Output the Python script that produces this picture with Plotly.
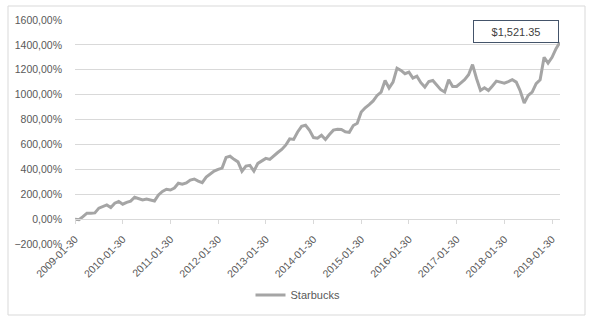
import calendar
import plotly.graph_objects as go

# ---- data -------------------------------------------------------------
series_name = "Starbucks"
start_year, start_month, n_points = 2009, 1, 123
dates = []
y, m = start_year, start_month
for _ in range(n_points):
    d = min(30, calendar.monthrange(y, m)[1])
    dates.append(f"{y:04d}-{m:02d}-{d:02d}")
    m += 1
    if m > 12:
        m, y = 1, y + 1

returns_pct = [
    0, -5, 20, 48, 48, 50, 88, 100, 114, 93,
    128, 141, 120, 135, 145, 176, 165, 154, 162, 152,
    146, 194, 222, 240, 234, 250, 288, 280, 290, 314,
    322, 305, 293, 338, 365, 386, 400, 410, 496, 505,
    480, 460, 385, 426, 432, 386, 448, 470, 488, 480,
    510, 535, 560, 594, 645, 640, 700, 745, 754, 714,
    655, 650, 674, 640, 680, 715, 722, 720, 702, 697,
    752, 770, 860, 895, 920, 950, 994, 1021, 1114, 1053,
    1101, 1213, 1195, 1168, 1181, 1133, 1149, 1096, 1061, 1106,
    1114, 1075, 1040, 1021, 1120, 1066, 1066, 1093, 1120, 1160,
    1242, 1130, 1034, 1056, 1034, 1070, 1109, 1101, 1093, 1105,
    1120, 1101, 1030, 933, 994, 1021, 1088, 1120, 1301, 1253,
    1300, 1370, 1421,
]
tick_dates = dates[::12]
end_label = "$1,521.35"

y_min, y_max, y_step = -200, 1600, 200

# ---- figure -----------------------------------------------------------
W, H = 603, 329
L, R, T, B = 75, 43, 20, 85
pw = W - L - R
ph = H - T - B

def px_to_paper_x(px):
    return (px - L) / pw

def px_to_paper_y(py):
    return (H - B - py) / ph

grid = "#D9D9D9"
txt = "#595959"
font_family = "Liberation Sans, Arial, sans-serif"

fig = go.Figure()
fig.add_trace(go.Scatter(
    x=dates, y=returns_pct, mode="lines", name=series_name,
    line=dict(color="#A5A5A5", width=3),
))

fig.update_layout(
    width=W, height=H,
    margin=dict(l=L, r=R, t=T, b=B),
    paper_bgcolor="white", plot_bgcolor="white",
    separators=",.",
    font=dict(family=font_family, size=11, color=txt),
    showlegend=True,
    legend=dict(
        orientation="h", x=px_to_paper_x(298), y=px_to_paper_y(295),
        xanchor="center", yanchor="middle", itemwidth=30,
        font=dict(size=11, color=txt), bgcolor="rgba(0,0,0,0)",
    ),
    xaxis=dict(
        type="category",
        range=[0, n_points - 1],
        anchor="free",
        position=(0 - y_min) / (y_max - y_min),
        showline=True, linecolor=grid, linewidth=1,
        showgrid=False, zeroline=False,
        ticks="outside", ticklen=4, tickcolor=grid, tickwidth=1,
        tickmode="array", tickvals=tick_dates, ticktext=tick_dates,
        tickangle=-45, ticklabelstandoff=5,
        tickfont=dict(size=10.5, color=txt, family=font_family),
    ),
    yaxis=dict(
        range=[y_min, y_max], dtick=y_step, tick0=0,
        showgrid=True, gridcolor=grid, gridwidth=1,
        zeroline=False, showline=False, ticks="",
        tickformat=".2f", ticksuffix="%", ticklabelstandoff=12,
        tickfont=dict(size=10.5, color=txt, family=font_family),
    ),
)

# outer chart border
fig.add_shape(
    type="rect", xref="paper", yref="paper",
    x0=px_to_paper_x(8), x1=px_to_paper_x(585),
    y0=px_to_paper_y(315), y1=px_to_paper_y(6),
    line=dict(color=grid, width=1), fillcolor="rgba(0,0,0,0)", layer="below",
)

# end value callout
fig.add_annotation(
    xref="paper", yref="paper",
    x=px_to_paper_x(516), y=px_to_paper_y(31.5),
    xanchor="center", yanchor="middle",
    text=end_label, showarrow=False,
    font=dict(size=11, color="#404040", family=font_family),
    bordercolor="#44546A", borderwidth=1, borderpad=3,
    bgcolor="white", width=78, height=15,
)

fig.write_html("out.html")
